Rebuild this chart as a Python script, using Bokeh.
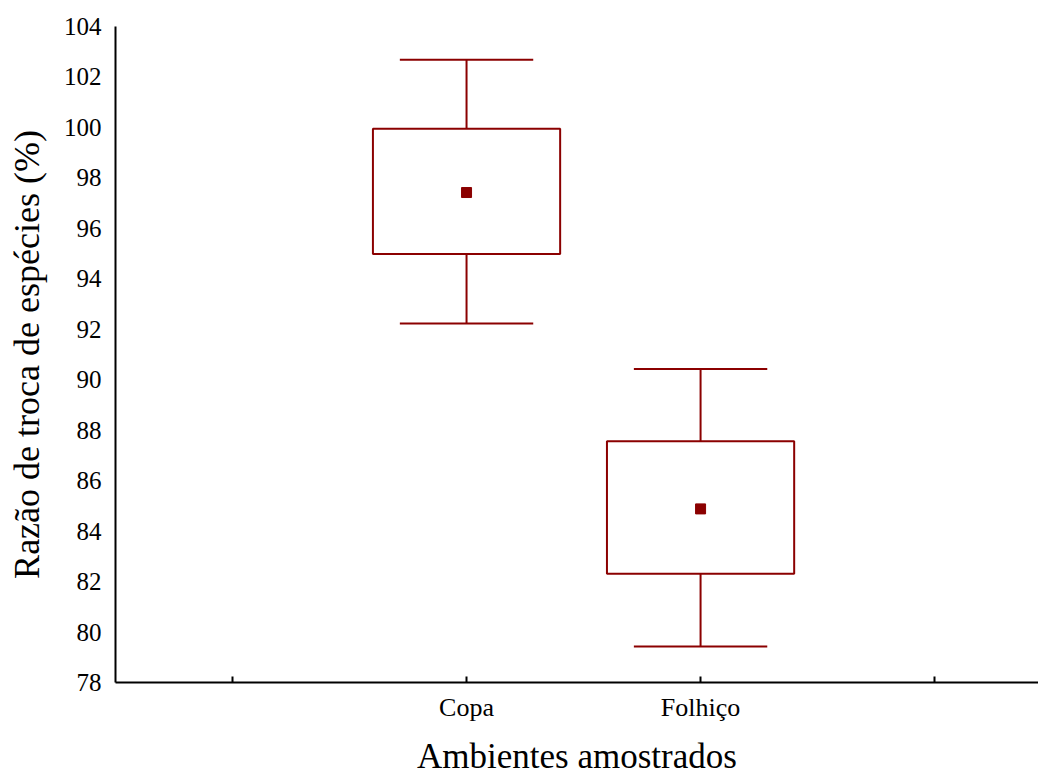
import numpy as np
from bokeh.plotting import figure
from bokeh.models import FixedTicker, Range1d, ColumnDataSource
from bokeh.embed import file_html
from bokeh.resources import INLINE

# ---- data ----
categories = ["Copa", "Folhiço"]
whisker_low = [92.23, 79.43]
box_low = [94.98, 82.31]
mean_val = [97.42, 84.88]
box_high = [99.95, 87.56]
whisker_high = [102.68, 90.43]
y_ticks = list(range(78, 105, 2))

x_title = "Ambientes amostrados"
y_title = "Razão de troca de espécies (%)"

# ---- build ----
xc = np.arange(len(categories)) + 1.5
box_w = 0.8
cap_w = 0.57
color = "#8B0000"
font = "Liberation Serif"

src = ColumnDataSource(dict(
    x=xc,
    left=xc - box_w / 2, right=xc + box_w / 2,
    cl=xc - cap_w / 2, cr=xc + cap_w / 2,
    wl=whisker_low, bl=box_low, m=mean_val, bh=box_high, wh=whisker_high,
))

p = figure(width=1038, height=778, output_backend="svg", toolbar_location=None,
           x_range=Range1d(0, 3.944), y_range=Range1d(78, 104),
           min_border_left=115, min_border_right=0, min_border_top=26,
           min_border_bottom=96)
p.outline_line_color = None
p.grid.visible = False
p.background_fill_color = "white"

# whiskers
p.segment(x0="x", y0="bh", x1="x", y1="wh", source=src, line_color=color, line_width=2)
p.segment(x0="x", y0="wl", x1="x", y1="bl", source=src, line_color=color, line_width=2)
p.segment(x0="cl", y0="wh", x1="cr", y1="wh", source=src, line_color=color, line_width=2)
p.segment(x0="cl", y0="wl", x1="cr", y1="wl", source=src, line_color=color, line_width=2)
# boxes
p.quad(left="left", right="right", bottom="bl", top="bh", source=src,
       fill_color=None, line_color=color, line_width=2)
# mean markers
p.scatter(x="x", y="m", source=src, marker="square", size=10,
          fill_color=color, line_color=color)

# x axis
xa = p.xaxis[0]
tick_pos = list(np.arange(len(categories) + 2) + 0.5)
xa.ticker = FixedTicker(ticks=tick_pos)
overrides = {float(t): "" for t in tick_pos}
for c, xv in zip(categories, xc):
    overrides[float(xv)] = c
xa.major_label_overrides = overrides
xa.major_tick_in = 6
xa.major_tick_out = 0
xa.minor_tick_line_color = None
xa.axis_line_width = 2
xa.axis_line_color = "black"
xa.major_tick_line_width = 2
xa.major_tick_line_color = "black"
xa.axis_label = x_title
xa.axis_label_text_font = font
xa.axis_label_text_font_size = "35px"
xa.axis_label_text_font_style = "normal"
xa.axis_label_text_color = "black"
xa.axis_label_standoff = 12
xa.major_label_text_font = font
xa.major_label_text_font_size = "26px"
xa.major_label_text_color = "black"
xa.major_label_standoff = 10

# y axis
ya = p.yaxis[0]
ya.ticker = FixedTicker(ticks=y_ticks)
ya.major_tick_in = 0
ya.major_tick_out = 0
ya.minor_tick_line_color = None
ya.axis_line_width = 2
ya.axis_line_color = "black"
ya.axis_label = y_title
ya.axis_label_text_font = font
ya.axis_label_text_font_size = "36px"
ya.axis_label_text_font_style = "normal"
ya.axis_label_text_color = "black"
ya.axis_label_standoff = 14
ya.major_label_text_font = font
ya.major_label_text_font_size = "25px"
ya.major_label_text_color = "black"
ya.major_label_standoff = 14

open("out.html", "w").write(file_html(p, INLINE))
